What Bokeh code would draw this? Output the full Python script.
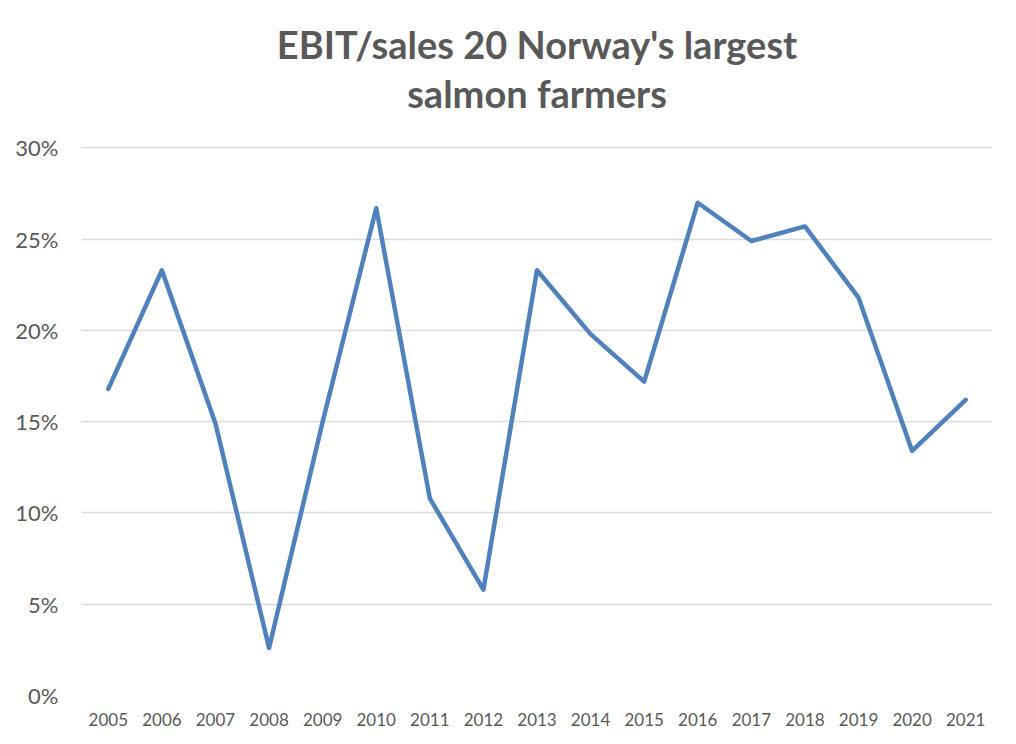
from bokeh.plotting import figure
from bokeh.models import FactorRange, Range1d, FixedTicker, NumeralTickFormatter, Title, ColumnDataSource
from bokeh.embed import file_html
from bokeh.resources import INLINE

years = ["2005", "2006", "2007", "2008", "2009", "2010", "2011", "2012", "2013",
         "2014", "2015", "2016", "2017", "2018", "2019", "2020", "2021"]
ebit_sales = [0.168, 0.233, 0.149, 0.026, 0.150, 0.267, 0.108, 0.058, 0.233,
              0.198, 0.172, 0.270, 0.249, 0.257, 0.218, 0.134, 0.162]
y_ticks = [0.0, 0.05, 0.10, 0.15, 0.20, 0.25, 0.30]
title_lines = ["EBIT/sales 20 Norway's largest", "salmon farmers"]

FONT = "Lato"
TXT = "#595959"

p = figure(width=1000, height=728, x_range=FactorRange(*years), y_range=Range1d(0, 0.3008),
           output_backend="svg", toolbar_location=None,
           min_border_left=81, min_border_right=8, min_border_bottom=33, min_border_top=146)
p.title = None
# spacer between the title block and the plot area
p.add_layout(Title(text=" ", align="center", text_font=FONT, text_font_size="12px",
                   text_color=TXT, standoff=13), "above")
p.add_layout(Title(text=title_lines[1], align="center", text_font=FONT, text_font_size="38px",
                   text_font_style="bold", text_color=TXT, standoff=2), "above")
p.add_layout(Title(text=title_lines[0], align="center", text_font=FONT, text_font_size="38px",
                   text_font_style="bold", text_color=TXT, standoff=0), "above")

src = ColumnDataSource(dict(x=years, y=ebit_sales))
p.line("x", "y", source=src, line_color="#4F81BD", line_width=4.5,
       line_join="round", line_cap="round")

p.outline_line_color = None
p.background_fill_color = "white"
p.border_fill_color = "white"

p.xgrid.grid_line_color = None
p.ygrid.grid_line_color = "#d9d9d9"
p.ygrid.grid_line_width = 1.3

p.yaxis.ticker = FixedTicker(ticks=y_ticks)
p.yaxis.formatter = NumeralTickFormatter(format="0%")
for ax in (p.xaxis, p.yaxis):
    ax.axis_line_color = None
    ax.major_tick_line_color = None
    ax.minor_tick_line_color = None
    ax.major_label_text_color = TXT
    ax.major_label_text_font = FONT
p.yaxis.major_label_text_font_size = "22px"
p.yaxis.major_label_standoff = 17
p.xaxis.major_label_text_font_size = "17px"
p.xaxis.major_label_standoff = 11
p.xaxis.group_text_font_size = "0px"

open("out.html", "w").write(file_html(p, INLINE))
